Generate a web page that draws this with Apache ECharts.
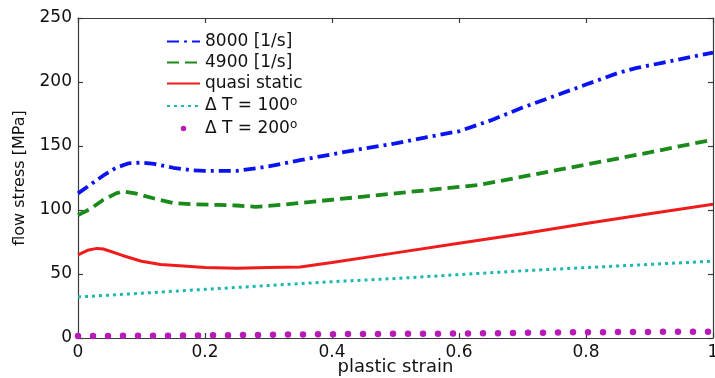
<!DOCTYPE html>
<html>
<head>
<meta charset="utf-8">
<script src="https://cdn.jsdelivr.net/npm/echarts@6/dist/echarts.min.js"></script>
<style>html,body{margin:0;padding:0;background:#fff;overflow:hidden;}#c{width:715px;height:378px;}</style>
</head>
<body>
<div id="c"></div>
<script>
const seriesNames = ['8000 [1/s]', '4900 [1/s]', 'quasi static', 'ΔT100', 'ΔT200'];
const xTicks = [0, 0.2, 0.4, 0.6, 0.8, 1];
const yTicks = [0, 50, 100, 150, 200, 250];

const x8000 = [0, 0.02, 0.04, 0.06, 0.08, 0.1, 0.12, 0.15, 0.18, 0.2, 0.25, 0.3, 0.35, 0.4, 0.45, 0.5, 0.55, 0.6, 0.65, 0.7, 0.75, 0.8, 0.85, 0.88, 0.92, 0.96, 1];
const y8000 = [113, 120, 127, 133, 136.5, 137, 136, 133, 131, 130.5, 130.5, 134, 139, 143.5, 148, 152, 157, 161.5, 170, 180, 189, 198, 207, 211, 215, 219, 223];

const x4900 = [0, 0.02, 0.04, 0.06, 0.07, 0.09, 0.12, 0.15, 0.18, 0.22, 0.25, 0.28, 0.32, 0.36, 0.4, 0.45, 0.5, 0.55, 0.6, 0.63, 0.7, 0.8, 0.9, 1];
const y4900 = [96, 101, 108, 113, 114.5, 113, 109, 105.5, 104.5, 104, 103.5, 102.5, 104, 106, 108, 110.5, 113, 115.5, 118, 119.5, 126, 135.5, 145, 155];

const xQuasi = [0, 0.015, 0.03, 0.04, 0.07, 0.1, 0.13, 0.16, 0.2, 0.25, 0.3, 0.35, 0.4, 0.5, 0.6, 0.7, 0.8, 0.9, 1];
const yQuasi = [65, 68.5, 70, 69.5, 64.5, 60, 57.5, 56.5, 55, 54.5, 55, 55.5, 59, 66.5, 74, 81.5, 89.5, 97, 104.5];

const xT100 = [0, 0.1, 0.2, 0.3, 0.4, 0.5, 0.6, 0.7, 0.8, 0.9, 1];
const yT100 = [32, 35, 38, 41, 44, 46.5, 49.5, 52.5, 55, 57.5, 60];

const xT200 = [0, 0.2, 0.4, 0.6, 0.8, 1];
const yT200 = [1.5, 2, 3, 3.5, 4.5, 5];

function pairs(xs, ys) { return xs.map((x, i) => [x, ys[i]]); }

const FONT = 'DejaVu Sans';
const chart = echarts.init(document.getElementById('c'), null, {renderer: 'canvas', width: 715, height: 378});

const colors = ['#0a14f0', '#1a8a1a', '#f01c1c', '#1cb8b0', '#b81ab8'];
const styles = [
  {width: 3.8, type: [12, 5, 3, 5]},
  {width: 3.8, type: [12, 6]},
  {width: 3, type: 'solid'},
  {width: 3, type: [3, 4]},
  {width: 6.5, type: [0, 15], cap: 'round'}
];
const datasets = [pairs(x8000, y8000), pairs(x4900, y4900), pairs(xQuasi, yQuasi), pairs(xT100, yT100), pairs(xT200, yT200)];

// the cyan series is bound to the (identical) top/right axes so the box axes carry data too
const series = seriesNames.map((n, i) => ({
  name: n,
  type: 'line',
  xAxisIndex: i === 3 ? 1 : 0,
  yAxisIndex: i === 3 ? 1 : 0,
  data: datasets[i],
  showSymbol: false,
  symbol: 'none',
  smooth: false,
  animation: false,
  lineStyle: Object.assign({color: colors[i]}, styles[i]),
  itemStyle: {color: colors[i]},
  z: 3
}));

function axisCommon() {
  return {
    axisLine: {show: true, onZero: false, lineStyle: {color: '#3a3a3a', width: 1.2}},
    axisTick: {show: true, inside: true, length: 5, lineStyle: {color: '#3a3a3a', width: 1.2}},
    splitLine: {show: false}
  };
}

const option = {
  animation: false,
  grid: {left: 78, right: 2, top: 18, bottom: 40, containLabel: false, outerBoundsMode: 'none', show: false},
  legend: {
    orient: 'vertical',
    left: 160,
    top: 29,
    padding: [4, 10, 6, 6],
    backgroundColor: '#fff',
    itemWidth: 33,
    itemHeight: 12,
    itemGap: 4,
    data: seriesNames.map((n, i) => i === 4
      ? {name: n, icon: 'path://M-1,0a1,1 0 1,0 2,0a1,1 0 1,0 -2,0M-6,0h0.01M6,0h0.01', itemStyle: {color: colors[i]}}
      : {name: n, itemStyle: {color: 'rgba(0,0,0,0)', borderColor: 'rgba(0,0,0,0)', borderWidth: 0}}),
    formatter: function (name) {
      if (name === 'ΔT100') return '{t|Δ T = 100}{s|o}';
      if (name === 'ΔT200') return '{t|Δ T = 200}{s|o}';
      return '{t|' + name + '}';
    },
    textStyle: {
      fontFamily: FONT, fontSize: 17, color: '#111',
      rich: {
        t: {fontFamily: FONT, fontSize: 17, color: '#111', lineHeight: 20},
        s: {fontFamily: FONT, fontSize: 12, color: '#111', lineHeight: 12, verticalAlign: 'top'}
      }
    },
    z: 10
  },
  xAxis: [
    Object.assign({
      type: 'value', min: 0, max: 1, interval: 0.2, position: 'bottom',
      name: 'plastic strain', nameLocation: 'middle', nameGap: 20, nameMoveOverlap: false,
      nameTextStyle: {fontFamily: FONT, fontSize: 18, color: '#111'},
      axisLabel: {fontFamily: FONT, fontSize: 17, color: '#111', margin: 6,
        formatter: v => xTicks.indexOf(Math.round(v * 10) / 10) >= 0 ? String(Math.round(v * 10) / 10) : ''}
    }, axisCommon()),
    Object.assign({
      type: 'value', min: 0, max: 1, interval: 0.2, position: 'top', show: true,
      axisLabel: {show: false}
    }, axisCommon())
  ],
  yAxis: [
    Object.assign({
      type: 'value', min: 0, max: 250, interval: 50, position: 'left',
      name: 'flow stress [MPa]', nameLocation: 'middle', nameGap: 50, nameRotate: 90, nameMoveOverlap: false,
      nameTextStyle: {fontFamily: FONT, fontSize: 16, color: '#111'},
      axisLabel: {fontFamily: FONT, fontSize: 17, color: '#111', margin: 6,
        formatter: v => yTicks.indexOf(v) >= 0 ? String(v) : ''}
    }, axisCommon()),
    Object.assign({
      type: 'value', min: 0, max: 250, interval: 50, position: 'right', show: true,
      axisLabel: {show: false}
    }, axisCommon())
  ],
  series: series
};
chart.setOption(option);
</script>
</body>
</html>
